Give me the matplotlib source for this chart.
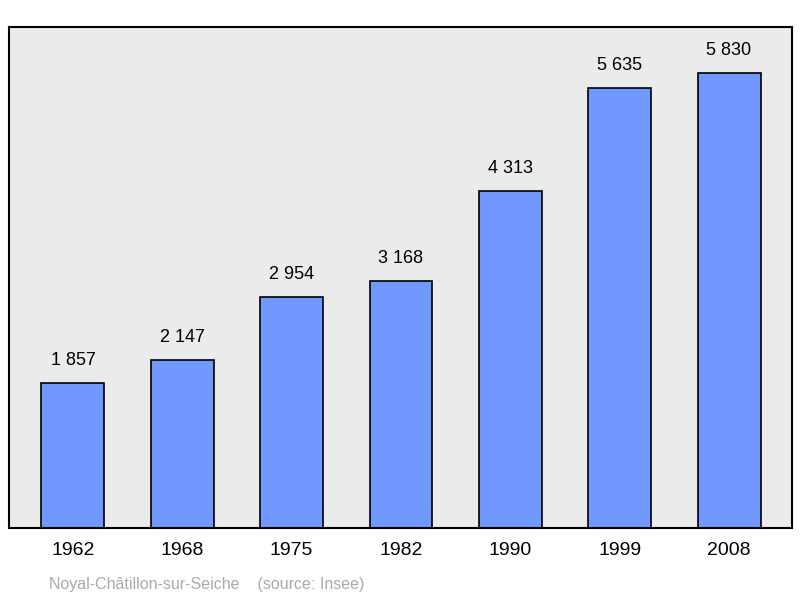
import matplotlib
matplotlib.use("Agg")
import matplotlib.pyplot as plt

years = ["1962", "1968", "1975", "1982", "1990", "1999", "2008"]
population = [1857, 2147, 2954, 3168, 4313, 5635, 5830]
labels = ["1 857", "2 147", "2 954", "3 168", "4 313", "5 635", "5 830"]

plt.rcParams['font.family'] = ['Liberation Sans', 'DejaVu Sans']
fig = plt.figure(figsize=(8, 5.98), dpi=100)
ax = fig.add_axes([9/800, 1-528/598, 783/800, 501/598])
ax.set_facecolor('#ebebeb')
x = list(range(len(years)))
ax.bar(x, population, width=0.576, color='#7098ff', edgecolor='black', linewidth=1.2, zorder=2)
for xi, v, l in zip(x, population, labels):
    ax.text(xi, v + 180, l, ha='center', va='bottom', fontsize=13)
ax.set_xlim(-0.585, 6.576)
ax.set_ylim(0, 6420)
ax.set_xticks(x)
ax.set_xticklabels(years, fontsize=14)
ax.tick_params(length=0, pad=10)
ax.set_yticks([])
for s in ax.spines.values():
    s.set_linewidth(1.5)
fig.text(49/800, 1-584/598, "Noyal-Châtillon-sur-Seiche    (source: Insee)", color='#aaaaaa', fontsize=11.5, va='center')
fig.savefig("out.png", dpi=100)
